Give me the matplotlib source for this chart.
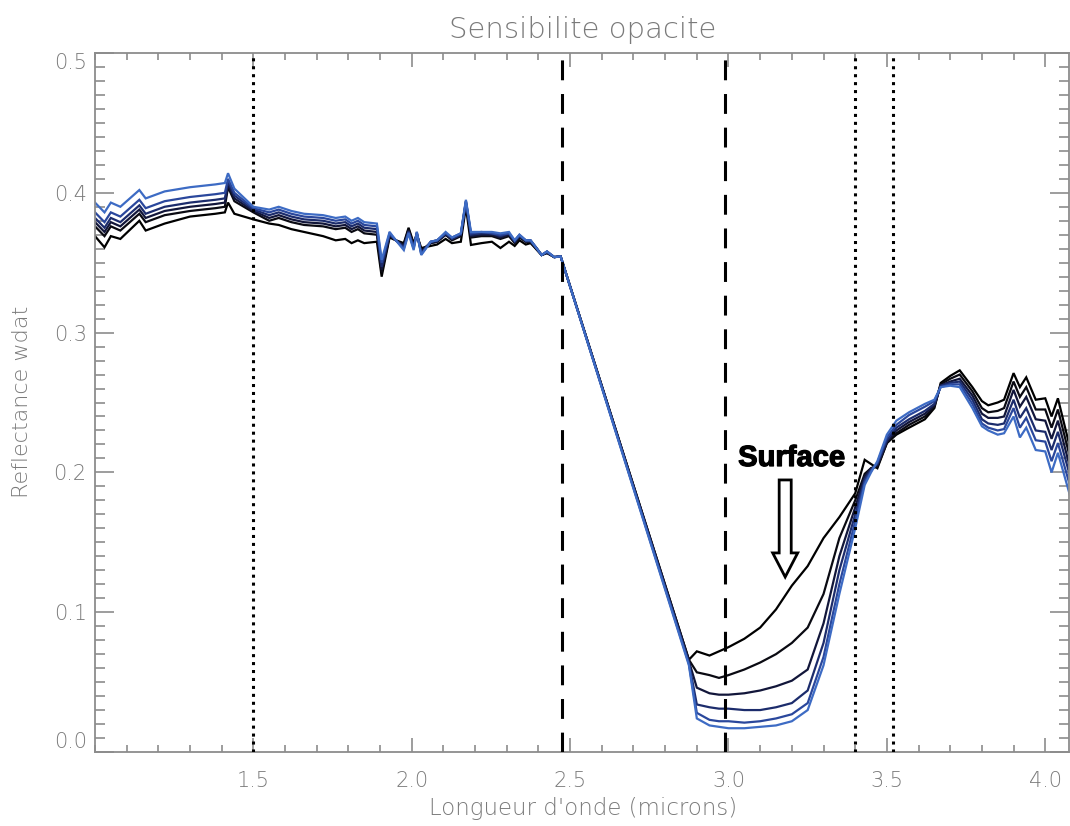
import matplotlib
matplotlib.use("Agg")
import matplotlib.pyplot as plt
import matplotlib.patheffects as pe
from matplotlib.ticker import MultipleLocator
from matplotlib.patches import FancyArrow

plt.rcParams['font.family'] = ['DejaVu Sans']

# wavelength grid (microns)
wl = [1.00, 1.03, 1.05, 1.08, 1.14, 1.16, 1.22, 1.30, 1.38, 1.41, 1.42, 1.44,
      1.50, 1.55, 1.58, 1.62, 1.66, 1.72, 1.76, 1.79, 1.81, 1.83, 1.85, 1.89,
      1.905, 1.93, 1.95, 1.975, 1.99, 2.006, 2.016, 2.03, 2.06, 2.08, 2.107, 2.127,
      2.155, 2.171, 2.187, 2.22, 2.253, 2.28, 2.307, 2.325, 2.34, 2.36, 2.375, 2.392,
      2.41, 2.427, 2.45, 2.47,
      2.875, 2.90, 2.94, 2.97, 3.00, 3.05, 3.10, 3.15, 3.20, 3.25, 3.30, 3.35, 3.40,
      3.43, 3.45,
      3.47, 3.50, 3.53, 3.57, 3.62, 3.65, 3.67, 3.70, 3.73, 3.77, 3.80, 3.82, 3.85,
      3.87, 3.90, 3.92, 3.94, 3.97, 4.00, 4.02, 4.04, 4.08]

# reflectance for each opacity case (black -> blue)
r0 = [0.369, 0.361, 0.369, 0.367, 0.380, 0.373, 0.378, 0.383, 0.385, 0.386, 0.393, 0.385,
      0.381, 0.378, 0.377, 0.374, 0.372, 0.369, 0.366, 0.367, 0.364, 0.366, 0.364, 0.365,
      0.340, 0.368, 0.366, 0.364, 0.375, 0.364, 0.370, 0.3605, 0.362, 0.363, 0.367, 0.364,
      0.365, 0.390, 0.3627, 0.364, 0.365, 0.3605, 0.365, 0.362, 0.366, 0.363, 0.364, 0.360,
      0.3555, 0.357, 0.354, 0.3545,
      0.066, 0.072, 0.069, 0.072, 0.075, 0.081, 0.089, 0.102, 0.119, 0.133, 0.153, 0.168, 0.185,
      0.209, 0.206,
      0.203, 0.221, 0.227, 0.232, 0.238, 0.246, 0.264, 0.269, 0.273, 0.261, 0.251, 0.248, 0.250,
      0.252, 0.271, 0.261, 0.268, 0.252, 0.253, 0.240, 0.253, 0.216]
r1 = [0.376, 0.369, 0.376, 0.373, 0.385, 0.379, 0.384, 0.387, 0.389, 0.390, 0.404, 0.394,
      0.386, 0.380, 0.382, 0.379, 0.377, 0.376, 0.374, 0.375, 0.372, 0.374, 0.371, 0.370,
      0.343, 0.369, 0.366, 0.363, 0.374, 0.363, 0.370, 0.359, 0.364, 0.365, 0.370, 0.366,
      0.369, 0.392, 0.368, 0.369, 0.369, 0.367, 0.369, 0.364, 0.368, 0.365, 0.365, 0.360,
      0.3555, 0.357, 0.354, 0.3545,
      0.066, 0.057, 0.055, 0.053, 0.055, 0.059, 0.064, 0.070, 0.078, 0.089, 0.113, 0.153, 0.180,
      0.199, 0.203,
      0.204, 0.221, 0.228, 0.234, 0.240, 0.247, 0.263, 0.267, 0.270, 0.258, 0.246, 0.243, 0.244,
      0.246, 0.265, 0.254, 0.261, 0.245, 0.245, 0.232, 0.245, 0.209]
r2 = [0.379, 0.372, 0.379, 0.376, 0.388, 0.382, 0.387, 0.390, 0.392, 0.393, 0.406, 0.396,
      0.387, 0.382, 0.384, 0.381, 0.379, 0.378, 0.376, 0.377, 0.374, 0.376, 0.373, 0.372,
      0.345, 0.370, 0.366, 0.362, 0.373, 0.362, 0.371, 0.358, 0.364, 0.365, 0.370, 0.367,
      0.370, 0.393, 0.369, 0.370, 0.370, 0.368, 0.370, 0.365, 0.369, 0.365, 0.365, 0.361,
      0.3555, 0.357, 0.354, 0.3545,
      0.065, 0.046, 0.042, 0.041, 0.041, 0.042, 0.044, 0.047, 0.051, 0.059, 0.092, 0.140, 0.175,
      0.197, 0.203,
      0.205, 0.222, 0.230, 0.236, 0.242, 0.248, 0.262, 0.265, 0.267, 0.255, 0.242, 0.239, 0.239,
      0.240, 0.259, 0.247, 0.254, 0.238, 0.237, 0.224, 0.237, 0.202]
r3 = [0.382, 0.375, 0.382, 0.379, 0.391, 0.385, 0.390, 0.393, 0.395, 0.396, 0.408, 0.398,
      0.388, 0.384, 0.386, 0.383, 0.381, 0.380, 0.378, 0.379, 0.376, 0.378, 0.375, 0.374,
      0.347, 0.370, 0.366, 0.361, 0.372, 0.361, 0.371, 0.357, 0.365, 0.366, 0.371, 0.367,
      0.370, 0.394, 0.370, 0.371, 0.371, 0.369, 0.371, 0.365, 0.369, 0.366, 0.366, 0.361,
      0.3555, 0.358, 0.354, 0.3545,
      0.064, 0.034, 0.032, 0.031, 0.031, 0.030, 0.030, 0.032, 0.035, 0.044, 0.078, 0.130, 0.170,
      0.195, 0.202,
      0.206, 0.223, 0.232, 0.238, 0.244, 0.249, 0.262, 0.264, 0.265, 0.252, 0.238, 0.235, 0.234,
      0.235, 0.252, 0.239, 0.246, 0.230, 0.229, 0.216, 0.229, 0.196]
r4 = [0.386, 0.379, 0.386, 0.383, 0.395, 0.389, 0.394, 0.397, 0.399, 0.400, 0.410, 0.400,
      0.389, 0.386, 0.388, 0.385, 0.383, 0.382, 0.380, 0.381, 0.378, 0.380, 0.377, 0.376,
      0.350, 0.371, 0.366, 0.360, 0.372, 0.360, 0.372, 0.356, 0.365, 0.366, 0.371, 0.368,
      0.371, 0.394, 0.371, 0.372, 0.371, 0.370, 0.371, 0.366, 0.370, 0.366, 0.366, 0.361,
      0.3555, 0.358, 0.354, 0.3545,
      0.063, 0.028, 0.023, 0.022, 0.022, 0.021, 0.022, 0.024, 0.027, 0.035, 0.068, 0.120, 0.165,
      0.193, 0.201,
      0.207, 0.225, 0.234, 0.241, 0.247, 0.251, 0.261, 0.263, 0.263, 0.249, 0.235, 0.232, 0.230,
      0.231, 0.246, 0.232, 0.239, 0.223, 0.222, 0.208, 0.221, 0.189]
r5 = [0.393, 0.386, 0.393, 0.390, 0.402, 0.396, 0.401, 0.404, 0.406, 0.407, 0.414, 0.403,
      0.390, 0.388, 0.390, 0.387, 0.385, 0.384, 0.382, 0.383, 0.380, 0.382, 0.379, 0.378,
      0.352, 0.372, 0.366, 0.359, 0.371, 0.359, 0.372, 0.3555, 0.365, 0.366, 0.372, 0.368,
      0.371, 0.395, 0.372, 0.372, 0.372, 0.371, 0.372, 0.366, 0.370, 0.366, 0.366, 0.361,
      0.3555, 0.358, 0.354, 0.3545,
      0.062, 0.024, 0.019, 0.018, 0.017, 0.017, 0.018, 0.019, 0.022, 0.030, 0.062, 0.113, 0.160,
      0.191, 0.200,
      0.208, 0.227, 0.237, 0.243, 0.249, 0.252, 0.261, 0.262, 0.261, 0.246, 0.233, 0.230, 0.227,
      0.228, 0.240, 0.225, 0.232, 0.216, 0.215, 0.200, 0.214, 0.182]

curves = [r0, r1, r2, r3, r4, r5]
colors = ['#000000', '#0a0a12', '#12163a', '#1c2c6c', '#2a479c', '#3d6bc4']

dotted_x = [1.5, 3.4, 3.52]
dashed_x = [2.475, 2.99]

gray = '#7a7a7a'
axgray = '#8c8c8c'
thin = 200

fig = plt.figure(figsize=(10.7, 8.26), dpi=100)
ax = fig.add_axes([95 / 1070, 74 / 826, 974 / 1070, 699 / 826])

for r, c in zip(curves, colors):
    ax.plot(wl, r, color=c, lw=1.6, solid_joinstyle='miter')

for x in dotted_x:
    ax.axvline(x, color='black', lw=2.2, ls=(0, (1, 1.6)), zorder=5)
for x in dashed_x:
    ax.axvline(x, color='black', lw=2.2, ls=(0, (6.5, 4.5)), zorder=5)

# "Surface" annotation with hollow arrow
ax.text(3.199, 0.2103, 'Surface', fontsize=21, fontweight='bold',
        family=['Liberation Sans', 'DejaVu Sans'], ha='center', va='center',
        path_effects=[pe.withStroke(linewidth=0.9, foreground='black')])
ax.add_patch(FancyArrow(3.179, 0.1946, 0, -0.0694, width=0.038, head_width=0.079,
                        head_length=0.0172, length_includes_head=True,
                        fc='white', ec='black', lw=2, zorder=6))

ax.set_xlim(1.0, 4.075)
ax.set_ylim(0.0, 0.5)
ax.set_xticks([1.5, 2.0, 2.5, 3.0, 3.5, 4.0])
ax.set_xticklabels(['1.5', '2.0', '2.5', '3.0', '3.5', '4.0'], fontweight=thin)
ax.set_yticks([0.0, 0.1, 0.2, 0.3, 0.4, 0.5])
ax.set_yticklabels(['0.0', '0.1', '0.2', '0.3', '0.4', '0.5'], fontweight=thin)
ax.xaxis.set_minor_locator(MultipleLocator(0.1))
ax.yaxis.set_minor_locator(MultipleLocator(0.01))

for s in ax.spines.values():
    s.set_color(axgray)
    s.set_linewidth(1.3)

ax.tick_params(axis='both', which='both', direction='in', top=True, right=True,
               color=axgray, width=1.2, labelcolor=gray, labelsize=15)
ax.tick_params(axis='x', which='major', length=10, pad=14)
ax.tick_params(axis='x', which='minor', length=5)
ax.tick_params(axis='y', which='major', length=14, pad=6)
ax.tick_params(axis='y', which='minor', length=7)

ylabs = ax.get_yticklabels()
ylabs[0].set_va('bottom')
ylabs[-1].set_va('top')

fig.text(583 / 1070, 1 - 30 / 826, 'Sensibilite opacite', fontsize=21, color=gray,
         ha='center', va='center', fontweight=thin)
fig.text(583 / 1070, 1 - 808 / 826, "Longueur d'onde (microns)", fontsize=16.5,
         color=gray, ha='center', va='center', fontweight=thin)
fig.text(22 / 1070, 1 - 402 / 826, 'Reflectance wdat', fontsize=16, color=gray,
         ha='center', va='center', rotation=90, fontweight=thin)

fig.savefig('out.png', dpi=100)
